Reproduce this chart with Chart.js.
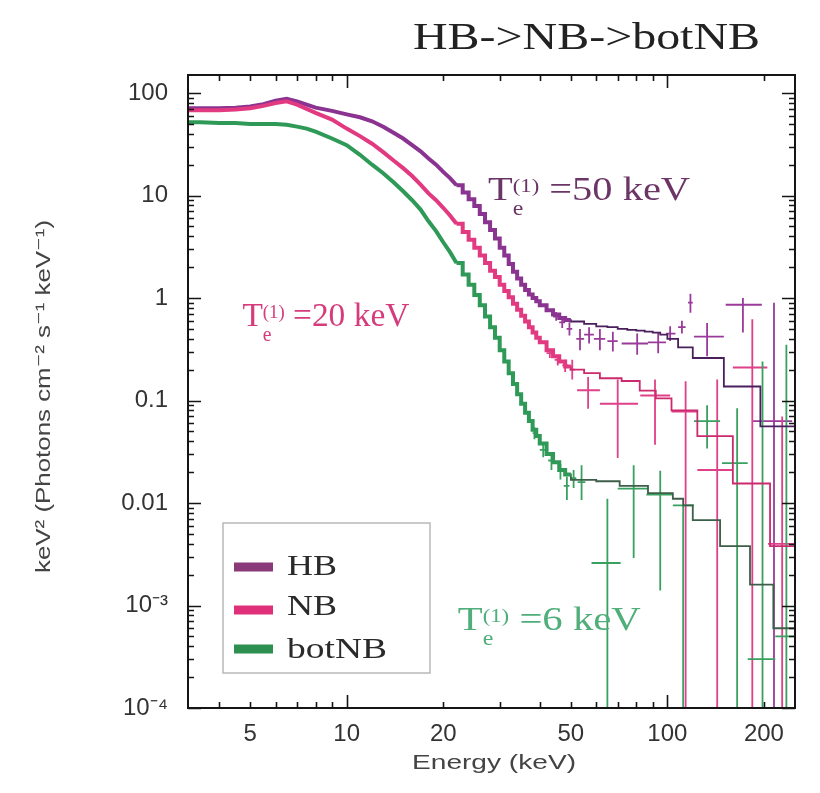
<!DOCTYPE html>
<html>
<head>
<meta charset="utf-8">
<script src="https://cdn.jsdelivr.net/npm/chart.js@4.4.1/dist/chart.umd.min.js"></script>
<style>
  html, body { margin: 0; padding: 0; background: #ffffff; }
  #wrap { width: 820px; height: 793px; }
</style>
</head>
<body>
<div id="wrap"><canvas id="spectra" width="820" height="793"></canvas></div>
<script>
// ---- axes ----
const energyMin = 3.2, energyMax = 250;
const fluxMin = 1e-4, fluxMax = 150;
const xTickLabels = [5, 10, 20, 50, 100, 200];
const xTickMarks = [4, 5, 6, 7, 8, 9, 10, 20, 30, 40, 50, 60, 70, 80, 90, 100, 200];
const xMajorMarks = [10, 100];
const yTickValues = [1e-4, 1e-3, 0.01, 0.1, 1, 10, 100];
const yTickLabels = ['10⁻⁴', '10⁻³', '0.01', '0.1', '1', '10', '100'];
const yMinorSteps = [2, 3, 4, 5, 6, 7, 8, 9];
const xTitle = 'Energy (keV)';
const yTitle = 'keV² (Photons cm⁻² s⁻¹ keV⁻¹)';

// ---- finely binned part of the spectra (lower bin edges, keV) ----
const denseEnergy = [3.0, 3.5, 4.0, 4.5, 5.0, 5.5, 6.0, 6.5, 7.0, 7.5, 8.0, 9.0, 10, 11, 12, 13, 14, 15, 16, 17,
  18, 19, 20, 21, 22, 23, 24, 25, 26, 27, 28, 29, 30, 31, 32, 33, 34, 35, 36, 37, 38, 39, 40, 42, 44, 46, 48];
const hbDense = [71, 71, 71, 72, 74, 78, 84, 88, 83, 77, 72, 67, 62, 58, 53, 47, 41, 36, 31, 27,
  23, 20, 17, 14.8, 12.6, 10.7, 9.2, 7.9, 6.6, 5.5, 4.6, 3.8, 3.1, 2.6, 2.15, 1.8, 1.55, 1.35, 1.2, 1.08,
  1.0, 0.93, 0.85, 0.76, 0.69, 0.64, 0.61];
const nbDense = [68, 68, 68, 69, 71, 75, 80, 83, 77, 70, 64, 55, 45, 38, 32, 26.5, 22, 18.5, 15.5, 12.8,
  10.5, 9.0, 7.6, 6.4, 5.3, 4.4, 3.7, 3.1, 2.6, 2.2, 1.85, 1.6, 1.35, 1.17, 1.02, 0.88, 0.77, 0.67, 0.59, 0.52,
  0.46, 0.41, 0.37, 0.31, 0.27, 0.24, 0.215];
const botDense = [52, 52, 51, 51, 50, 50, 50, 49, 47, 45, 42, 36, 31, 25, 20, 16.5, 13.5, 11, 9, 7.3,
  5.6, 4.5, 3.5, 2.8, 2.2, 1.7, 1.35, 1.07, 0.85, 0.66, 0.52, 0.41, 0.31, 0.24, 0.185, 0.145, 0.115, 0.093, 0.076, 0.063,
  0.052, 0.045, 0.038, 0.03, 0.025, 0.021, 0.019];
// bins are narrow enough below this energy that the histogram reads as a smooth curve
const stepStart = 22;

// ---- coarse model bins above 50 keV (lower edges, keV) ----
const hbModelEdge = [50, 55, 60, 65, 70, 75, 80, 85, 90, 95, 100, 108, 120, 150, 195];
const hbModel = [0.59, 0.56, 0.53, 0.52, 0.50, 0.49, 0.48, 0.47, 0.46, 0.44, 0.40, 0.33, 0.26, 0.137, 0.056];
const nbModelEdge = [50, 55, 61.6, 72, 82, 92, 103, 124, 160, 209];
const nbModel = [0.20, 0.185, 0.165, 0.155, 0.125, 0.105, 0.08, 0.045, 0.0155, 0.0038];
const botModelEdge = [50, 60, 71, 87, 104, 112, 120, 146, 181, 214];
const botModel = [0.0168, 0.0163, 0.0147, 0.0125, 0.011, 0.0095, 0.0068, 0.0038, 0.0016, 0.0006];

// ---- high-energy data points with error bars ----
const hbPtE   = [45, 47, 49.5, 53.4, 57, 61.6, 67.6, 80.5, 93.6, 102, 111, 118, 133, 172, 215];
const hbPtELo = [44, 46, 48.5, 52, 55, 59, 65, 72, 87, 99, 108, 116, 121, 152, 185];
const hbPtEHi = [46, 48, 50.5, 55, 59, 64, 70, 87, 99, 106, 114, 120, 150, 197, 245];
const hbPtF   = [0.66, 0.58, 0.5, 0.40, 0.44, 0.40, 0.38, 0.36, 0.37, 0.45, 0.52, 0.9, 0.42, 0.86, 0.063];
const hbPtFLo = [0.6, 0.51, 0.43, 0.31, 0.36, 0.31, 0.3, 0.28, 0.29, 0.38, 0.45, 0.72, 0.27, 0.46, 1e-5];
const hbPtFHi = [0.73, 0.66, 0.58, 0.5, 0.52, 0.5, 0.47, 0.45, 0.46, 0.53, 0.6, 1.1, 0.57, 1.0, 0.9];

const nbPtE   = [43, 45.5, 48, 50.5, 56.6, 70, 91.5, 114, 143, 184, 228];
const nbPtELo = [42, 44.5, 47, 49.5, 52.3, 61.6, 82.3, 103, 124, 160, 206];
const nbPtEHi = [44, 46.5, 49, 51.5, 61.6, 81, 102, 124, 160, 205, 250];
const nbPtF   = [0.29, 0.25, 0.22, 0.2, 0.126, 0.093, 0.112, 0.078, 0.021, 0.21, 0.004];
const nbPtFLo = [0.26, 0.22, 0.19, 0.16, 0.083, 0.0275, 0.037, 1e-5, 1e-5, 1e-5, 1e-5];
const nbPtFHi = [0.32, 0.28, 0.25, 0.25, 0.17, 0.16, 0.16, 0.154, 0.16, 0.62, 0.07];

const botPtE   = [38.5, 41, 43.5, 46.4, 48.6, 51, 54, 65, 78.5, 95, 112, 133, 165, 198, 235];
const botPtELo = [38, 40, 42.5, 45.5, 47.5, 50, 52.5, 58, 70, 86, 104, 121, 148, 178, 217];
const botPtEHi = [39, 42, 44.5, 47.5, 49.5, 52, 55.5, 71.5, 87, 104, 121, 146, 178, 217, 250];
const botPtF   = [0.048, 0.033, 0.026, 0.0205, 0.0147, 0.0175, 0.016, 0.0026, 0.0138, 0.0121, 0.0095, 0.063, 0.0245, 0.0003, 0.0005];
const botPtFLo = [0.042, 0.028, 0.021, 0.017, 0.0107, 0.014, 0.0107, 1e-5, 0.0029, 0.0014, 1e-5, 0.034, 1e-5, 1e-5, 1e-5];
const botPtFHi = [0.055, 0.038, 0.031, 0.024, 0.018, 0.021, 0.0233, 0.011, 0.0233, 0.0207, 0.0095, 0.09, 0.084, 0.24, 0.35];

const seriesNames = ['HB', 'NB', 'botNB'];
const bandColors = ['#8a3390', '#e23a80', '#2f9a58'];
const modelColors = ['#4a1f5c', '#cc2a6e', '#3d5e48'];
const errorColors = ['#9a3a9a', '#e0408a', '#3aa060'];
const legendColors = ['#8a3a78', '#e0307a', '#2e9050'];

// ---- build the point lists Chart.js draws ----
function pointsFrom(values, keep) {
  const pts = [];
  denseEnergy.forEach((e, i) => { if (keep(e)) pts.push({ x: e, y: values[i] }); });
  return pts;
}
const denseSets = [hbDense, nbDense, botDense];
const modelSets = [[hbModelEdge, hbModel], [nbModelEdge, nbModel], [botModelEdge, botModel]];
const errorSets = [
  [hbPtE, hbPtELo, hbPtEHi, hbPtF, hbPtFLo, hbPtFHi],
  [nbPtE, nbPtELo, nbPtEHi, nbPtF, nbPtFLo, nbPtFHi],
  [botPtE, botPtELo, botPtEHi, botPtF, botPtFLo, botPtFHi]
];

const datasets = [];
[2, 1, 0].forEach(k => {
  const dense = denseSets[k];
  const [edges, model] = modelSets[k];
  // measured spectrum: smooth below stepStart, histogram above
  datasets.push({
    label: seriesNames[k] + ' data (low)',
    data: pointsFrom(dense, e => e <= stepStart),
    borderColor: bandColors[k], borderWidth: 4, stepped: false, tension: 0, pointRadius: 0, fill: false
  });
  const hist = pointsFrom(dense, e => e >= stepStart);
  hist.push({ x: edges[0], y: dense[dense.length - 1] });
  datasets.push({
    label: seriesNames[k] + ' data (high)',
    data: hist,
    borderColor: bandColors[k], borderWidth: 4, stepped: true, pointRadius: 0, fill: false
  });
  // folded model
  datasets.push({
    label: seriesNames[k] + ' model (low)',
    data: pointsFrom(dense, e => e <= stepStart),
    borderColor: modelColors[k], borderWidth: 1.6, stepped: false, tension: 0, pointRadius: 0, fill: false
  });
  const mHist = pointsFrom(dense, e => e >= stepStart);
  edges.forEach((e, i) => mHist.push({ x: e, y: model[i] }));
  mHist.push({ x: energyMax, y: model[model.length - 1] });
  datasets.push({
    label: seriesNames[k] + ' model (high)',
    data: mHist,
    borderColor: modelColors[k], borderWidth: 1.8, stepped: true, pointRadius: 0, fill: false
  });
});

// ---- error bar crosses ----
const errorBarPlugin = {
  id: 'errorBars',
  beforeDatasetsDraw(chart) {
    const { ctx, chartArea: a, scales: { x, y } } = chart;
    ctx.save();
    ctx.beginPath();
    ctx.rect(a.left, a.top, a.right - a.left, a.bottom - a.top);
    ctx.clip();
    ctx.lineWidth = 1.8;
    errorSets.forEach((set, k) => {
      const [E, ELo, EHi, F, FLo, FHi] = set;
      ctx.strokeStyle = errorColors[k];
      E.forEach((e, i) => {
        const px = x.getPixelForValue(e);
        const py = y.getPixelForValue(F[i]);
        ctx.beginPath();
        ctx.moveTo(x.getPixelForValue(ELo[i]), py);
        ctx.lineTo(x.getPixelForValue(EHi[i]), py);
        ctx.moveTo(px, y.getPixelForValue(FLo[i]));
        ctx.lineTo(px, y.getPixelForValue(FHi[i]));
        ctx.stroke();
      });
    });
    ctx.restore();
  }
};

// ---- frame and inward tick marks on all four sides ----
const framePlugin = {
  id: 'frame',
  afterDatasetsDraw(chart) {
    const { ctx, chartArea: a, scales: { x, y } } = chart;
    ctx.save();
    ctx.strokeStyle = '#151515';
    ctx.lineWidth = 2;
    ctx.strokeRect(a.left, a.top, a.right - a.left, a.bottom - a.top);
    ctx.lineWidth = 1.6;
    ctx.beginPath();
    xTickMarks.forEach(v => {
      const px = Math.round(x.getPixelForValue(v)) + 0.5;
      const len = xMajorMarks.includes(v) ? 13 : 6;
      ctx.moveTo(px, a.bottom); ctx.lineTo(px, a.bottom - len);
      ctx.moveTo(px, a.top); ctx.lineTo(px, a.top + len);
    });
    yTickValues.forEach(d => {
      const py = Math.round(y.getPixelForValue(d)) + 0.5;
      ctx.moveTo(a.left, py); ctx.lineTo(a.left + 13, py);
      ctx.moveTo(a.right, py); ctx.lineTo(a.right - 13, py);
      yMinorSteps.forEach(m => {
        const v = d * m;
        if (v > fluxMax) return;
        const pm = Math.round(y.getPixelForValue(v)) + 0.5;
        ctx.moveTo(a.left, pm); ctx.lineTo(a.left + 6, pm);
        ctx.moveTo(a.right, pm); ctx.lineTo(a.right - 6, pm);
      });
    });
    ctx.stroke();
    ctx.restore();
  }
};

// ---- text helpers ----
const SERIF = '"Liberation Serif", "Times New Roman", serif';
const SANS_STACK = '"Liberation Sans", Arial, "DejaVu Sans", sans-serif';
// runs: [text, font size, baseline shift, advances?]; the whole string is fitted to `width`
function stretchedText(ctx, runs, left, baseline, width, color, family, angle) {
  const fam = family || SERIF;
  ctx.save();
  ctx.fillStyle = color;
  ctx.textBaseline = 'alphabetic';
  ctx.textAlign = 'left';
  let natural = 0;
  runs.forEach(r => {
    ctx.font = r[1] + 'px ' + fam;
    if (r[3] !== false) natural += ctx.measureText(r[0]).width;
  });
  ctx.translate(left, baseline);
  if (angle) ctx.rotate(angle);
  ctx.scale(width / natural, 1);
  let cx = 0;
  runs.forEach(r => {
    ctx.font = r[1] + 'px ' + fam;
    ctx.fillText(r[0], cx, r[2]);
    if (r[3] !== false) cx += ctx.measureText(r[0]).width;
  });
  ctx.restore();
}
function tempLabel(ctx, value, left, baseline, width, color) {
  stretchedText(ctx, [
    ['T', 34, 0],
    ['e', 20, 15, false],
    ['(1)', 19, -8],
    [' =' + value + ' keV', 34, 0]
  ], left, baseline, width, color);
}

const textPlugin = {
  id: 'texts',
  afterDraw(chart) {
    const { ctx, scales: { x, y } } = chart;
    // title
    stretchedText(ctx, [['HB->NB->botNB', 37, 0]], 413, 49, 347, '#222222');
    // axis titles
    stretchedText(ctx, [[xTitle, 21, 0]], 412, 769, 164, '#444444', SANS_STACK);
    stretchedText(ctx, [[yTitle, 21, 0]], 50, 573, 353, '#444444', SANS_STACK, -Math.PI / 2);
    // temperature labels, anchored in data coordinates
    tempLabel(ctx, '50', x.getPixelForValue(27.6), y.getPixelForValue(9.0), 202, '#6b3566');
    tempLabel(ctx, '20', x.getPixelForValue(4.73), y.getPixelForValue(0.535), 167, '#d63c7c');
    tempLabel(ctx, '6', x.getPixelForValue(22.2), y.getPixelForValue(5.8e-4), 183, '#4fae7a');
    // legend box
    ctx.save();
    ctx.strokeStyle = '#b8b8b8';
    ctx.lineWidth = 1.5;
    ctx.fillStyle = '#ffffff';
    ctx.fillRect(223, 523, 207, 150);
    ctx.strokeRect(223, 523, 207, 150);
    const rows = [[567, 575, 50], [610, 615, 50], [649, 658, 100]];
    seriesNames.forEach((name, k) => {
      ctx.strokeStyle = legendColors[k];
      ctx.lineWidth = 9;
      ctx.lineCap = 'butt';
      ctx.beginPath();
      ctx.moveTo(234, rows[k][0]);
      ctx.lineTo(273, rows[k][0]);
      ctx.stroke();
      stretchedText(ctx, [[name, 30, 0]], 287, rows[k][1], rows[k][2], '#2a2a2a');
    });
    ctx.restore();
  }
};

const SANS = 'Liberation Sans';
new Chart(document.getElementById('spectra'), {
  type: 'line',
  data: { datasets },
  options: {
    responsive: false,
    animation: false,
    layout: { padding: { left: 0, right: 25, top: 75, bottom: 0 } },
    plugins: { legend: { display: false }, tooltip: { enabled: false }, title: { display: false } },
    scales: {
      x: {
        type: 'logarithmic', min: energyMin, max: energyMax, position: 'bottom',
        afterBuildTicks: s => { s.ticks = xTickLabels.map(v => ({ value: v })); },
        afterFit: s => { s.height = 85; },
        grid: { display: false, drawTicks: false },
        border: { display: false },
        ticks: {
          autoSkip: false, maxRotation: 0, minRotation: 0, padding: 12,
          font: { family: SANS, size: 24 }, color: '#333333',
          callback: v => String(v)
        },
        title: { display: false }
      },
      y: {
        type: 'logarithmic', min: fluxMin, max: fluxMax, position: 'left',
        afterBuildTicks: s => { s.ticks = yTickValues.map(v => ({ value: v })); },
        afterFit: s => { s.width = 188; },
        grid: { display: false, drawTicks: false },
        border: { display: false },
        ticks: {
          autoSkip: false, padding: 20,
          font: { family: SANS, size: 24 }, color: '#333333',
          callback: (v, i) => yTickLabels[i]
        },
        title: { display: false }
      }
    }
  },
  plugins: [errorBarPlugin, framePlugin, textPlugin]
});
</script>
</body>
</html>
